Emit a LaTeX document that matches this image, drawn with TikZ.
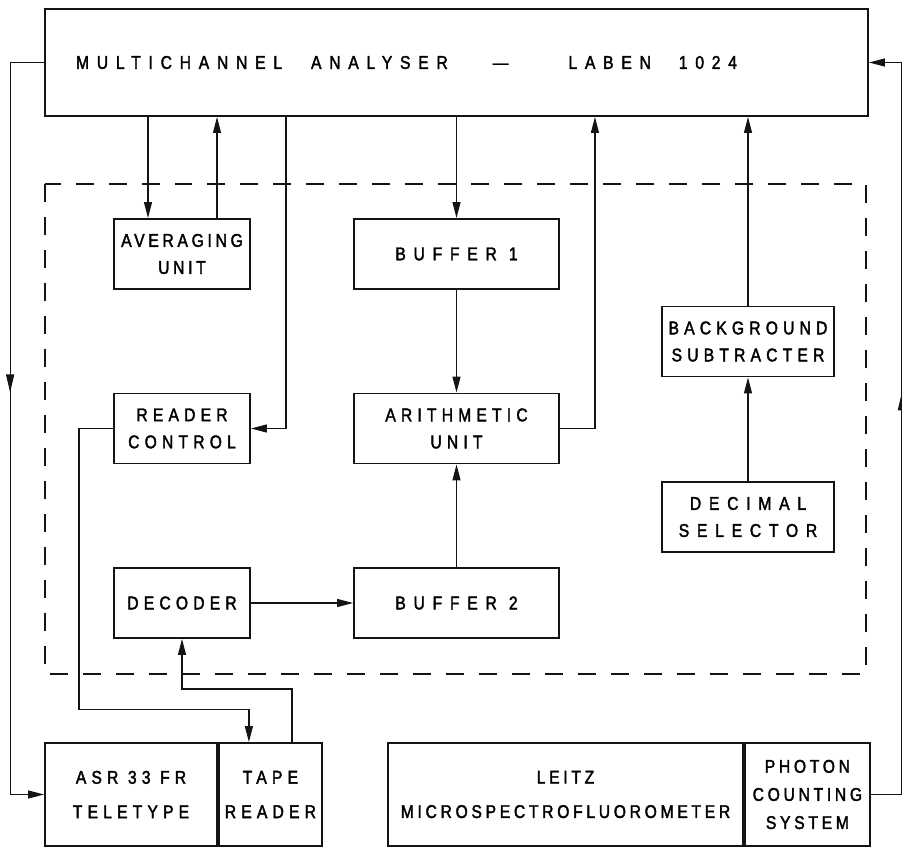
\documentclass[tikz,border=0pt]{standalone}
\usepackage{fontspec}
\usepackage{tikz}
\usetikzlibrary{
arrows.meta,
positioning,
decorations.markings
}
\newfontfamily\labfont[FakeStretch=0.85,FakeBold=2,LetterSpace=28]{Liberation Sans}
\newfontfamily\labfontwide[FakeStretch=0.85,FakeBold=2,LetterSpace=42]{Liberation Sans}
\newfontfamily\labfonttight[FakeStretch=0.85,FakeBold=2,LetterSpace=20]{Liberation Sans}
\definecolor{LABInk}{HTML}{141414}
\tikzset{
labblock/.style={draw=LABInk, line width=1.1pt, align=center, inner sep=0pt,
  minimum width=2.72cm, minimum height=1.4cm, font=\labfont\fontsize{10.5}{15.4}\selectfont},
labwide/.style={labblock, minimum width=4.1cm},
labbottom/.style={labblock, minimum height=2.06cm, font=\labfont\fontsize{10.5}{19.6}\selectfont},
labarrow/.style={-{Triangle[length=3.2mm,width=1.6mm]}, line width=0.7pt, draw=LABInk},
labmid/.style={postaction={decorate, decoration={markings,
  mark=at position #1 with {\arrow{Triangle[length=3.6mm,width=1.6mm]}}}}},
labframe/.style={draw=LABInk, line width=1.1pt, dash pattern=on 3.6mm off 3mm}
}

\begin{document}
\begin{tikzpicture}[x=0.02cm, y=-0.02cm]
\useasboundingbox (0,0) rectangle (902,847);
\node[labblock, minimum width=16.46cm, minimum height=2.14cm,
  font=\labfontwide\fontsize{10.5}{15.4}\selectfont] (mca) at (456.5,62.5)
  {MULTICHANNEL\hspace{5.8mm}ANALYSER\hspace{9mm}\textemdash\hspace{12mm}LABEN\hspace{5.6mm}1024\hspace{20mm}\mbox{}};
\node[labblock, font=\labfonttight\fontsize{10.5}{15.4}\selectfont] (avg) at (182,254) {AVERAGING\\UNIT};
\node[labwide, font=\labfontwide\fontsize{10.5}{15.4}\selectfont] (buf1) at (456.5,254) {BUFFER 1};
\node[labblock] (rdc) at (182,428.5) {READER\\CONTROL};
\node[labwide] (arith) at (456.5,428.5) {ARITHMETIC\\UNIT};
\node[labblock, minimum width=3.44cm] (bgs) at (748,341.5) {BACKGROUND\\SUBTRACTER};
\node[labblock, minimum width=3.44cm,
  font=\labfontwide\fontsize{10.5}{15.4}\selectfont] (dsel) at (748,517) {DECIMAL\\SELECTOR};
\node[labblock] (dcd) at (182,603) {DECODER};
\node[labwide, font=\labfontwide\fontsize{10.5}{15.4}\selectfont] (buf2) at (456.5,603) {BUFFER 2};
\node[labbottom, minimum width=3.44cm] (asr) at (131,794.5) {ASR 33 FR\\TELETYPE};
\node[labbottom, minimum width=2.06cm, right=0pt of asr] (tape) {TAPE\\READER};
\node[labbottom, minimum width=7.1cm,
  font=\labfonttight\fontsize{10.5}{19.6}\selectfont] (leitz) at (565.5,794.5) {LEITZ\\MICROSPECTROFLUOROMETER};
\node[labbottom, minimum width=2.5cm, right=0pt of leitz,
  font=\labfonttight\fontsize{10.5}{16}\selectfont] (pcs) {PHOTON\\COUNTING\\SYSTEM};

% processor frame
\draw[labframe] (45,184) rectangle (866,674);

\coordinate (avgin) at ([xshift=-6.8mm]avg.north);
\coordinate (avgout) at ([xshift=7mm]avg.north);
\coordinate (rdcin) at ([xshift=7mm]rdc.east);
\coordinate (arout) at ([xshift=7mm]arith.east);
\coordinate (tapein) at ([xshift=-4.3mm]tape.north);
\coordinate (tapeout) at ([xshift=4.3mm]tape.north);

\draw[labarrow] (avgin |- mca.south) -- (avgin);
\draw[labarrow] (avgout) -- (avgout |- mca.south);
\draw[labarrow] (rdcin |- mca.south) |- (rdc.east);
\draw[labarrow] (buf1.north |- mca.south) -- (buf1.north);
\draw[labarrow] (buf1) -- (arith);
\draw[labarrow] (buf2) -- (arith);
\draw[labarrow] (arith.east) -| (arout |- mca.south);
\draw[labarrow] (dsel) -- (bgs);
\draw[labarrow] (bgs.north) -- (bgs.north |- mca.south);
\draw[labarrow] (dcd) -- (buf2);
\draw[labarrow] (rdc.west) -- ++(-34,0) -- ++(0,281) -| (tapein);
\draw[labarrow] (tapeout) -- ++(0,-53) -| (dcd.south);
\draw[labarrow, labmid=0.455] (mca.west) -- ++(-34,0) |- (asr.west);
\draw[labarrow, labmid=0.544] (pcs.east) -- ++(31,0) |- (mca.east);
\end{tikzpicture}
\end{document}
